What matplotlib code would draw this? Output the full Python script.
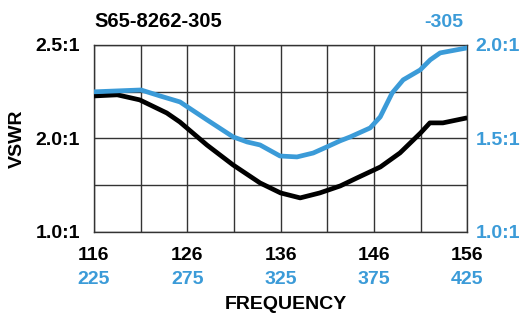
import matplotlib.pyplot as plt
import numpy as np

# black curve: 116-156 MHz band, left VSWR scale
freq_black = [116.0, 118.5, 120.9, 123.8, 125.2, 128.1, 130.9, 133.8, 136.0, 138.1,
              140.2, 142.4, 144.2, 146.7, 148.8, 151.0, 152.0, 153.4, 156.0]
vswr_black = [2.227, 2.233, 2.206, 2.136, 2.088, 1.930, 1.717, 1.524, 1.417, 1.364,
              1.417, 1.492, 1.578, 1.695, 1.845, 2.029, 2.083, 2.083, 2.110]

# blue curve: 225-425 MHz band, right VSWR scale
freq_blue = [225.0, 250.2, 260.4, 271.1, 285.6, 299.6, 307.1, 314.0, 324.7, 333.8, 342.5,
             349.9, 356.9, 362.3, 373.0, 378.4, 384.8, 390.7, 399.8, 405.2, 410.5, 425.0]
vswr_blue = [1.749, 1.759, 1.727, 1.695, 1.599, 1.508, 1.481, 1.465, 1.406, 1.401, 1.422,
             1.455, 1.487, 1.508, 1.556, 1.615, 1.743, 1.813, 1.866, 1.920, 1.957, 1.984]

left_ticks = [1.0, 1.5, 2.0, 2.25, 2.5]
left_labels = ['1.0:1', '', '2.0:1', '', '2.5:1']
right_ticks = [1.0, 1.25, 1.5, 1.75, 2.0]
right_labels = ['1.0:1', '', '1.5:1', '', '2.0:1']
black_xticks = [116, 121, 126, 131, 136, 141, 146, 151, 156]
black_xlabels = ['116', '', '126', '', '136', '', '146', '', '156']
blue_xticks = [225, 275, 325, 375, 425]

blue = '#3b9bd8'
plt.rcParams['font.family'] = ['Liberation Sans', 'DejaVu Sans']
plt.rcParams['font.weight'] = 'bold'


# left scale is not linear: 1.0-2.0 takes two rows, 2.0-2.5 takes two rows
def fwd(v):
    return np.interp(v, [1.0, 2.0, 2.5], [0.0, 2.0, 4.0])


def inv(g):
    return np.interp(g, [0.0, 2.0, 4.0], [1.0, 2.0, 2.5])


fig = plt.figure(figsize=(5.22, 3.16), dpi=100)
rect = [0.180, 0.266, 0.715, 0.592]

ax = fig.add_axes(rect)
ax.set_yscale('function', functions=(fwd, inv))
ax.set_xlim(116, 156)
ax.set_ylim(1.0, 2.5)
ax.plot(freq_black, vswr_black, color='black', lw=3.4, solid_joinstyle='round',
        solid_capstyle='butt', zorder=3)
ax.set_yticks(left_ticks)
ax.set_yticklabels(left_labels)
ax.yaxis.set_minor_locator(plt.NullLocator())
ax.set_xticks(black_xticks)
ax.set_xticklabels(black_xlabels)
ax.tick_params(axis='both', length=0, labelsize=14)
ax.tick_params(axis='y', pad=10)
ax.tick_params(axis='x', pad=11)
ax.grid(True, color='#333333', lw=1.0)
for s in ax.spines.values():
    s.set_color('#333333')
    s.set_linewidth(1.0)
ax.set_ylabel('VSWR', fontsize=14, fontweight='bold')
ax.yaxis.set_label_coords(-0.183, 0.5)

axb = fig.add_axes(rect, frameon=False)
axb.set_xlim(225, 425)
axb.set_ylim(1.0, 2.0)
axb.plot(freq_blue, vswr_blue, color=blue, lw=3.4, solid_joinstyle='round',
         solid_capstyle='butt', zorder=3)
axb.yaxis.tick_right()
axb.set_yticks(right_ticks)
axb.set_yticklabels(right_labels)
axb.set_xticks(blue_xticks)
axb.tick_params(axis='both', length=0, labelsize=14, labelcolor=blue)
axb.tick_params(axis='y', pad=6)
axb.tick_params(axis='x', pad=28)

fig.text(0.180, 0.915, 'S65-8262-305', fontsize=14.5, fontweight='bold', ha='left', va='baseline')
fig.text(0.887, 0.915, '-305', fontsize=14, fontweight='bold', color=blue, ha='right', va='baseline')
fig.text(0.548, 0.008, 'FREQUENCY', fontsize=14, fontweight='bold', ha='center', va='bottom')

fig.savefig('out.png', dpi=100)
